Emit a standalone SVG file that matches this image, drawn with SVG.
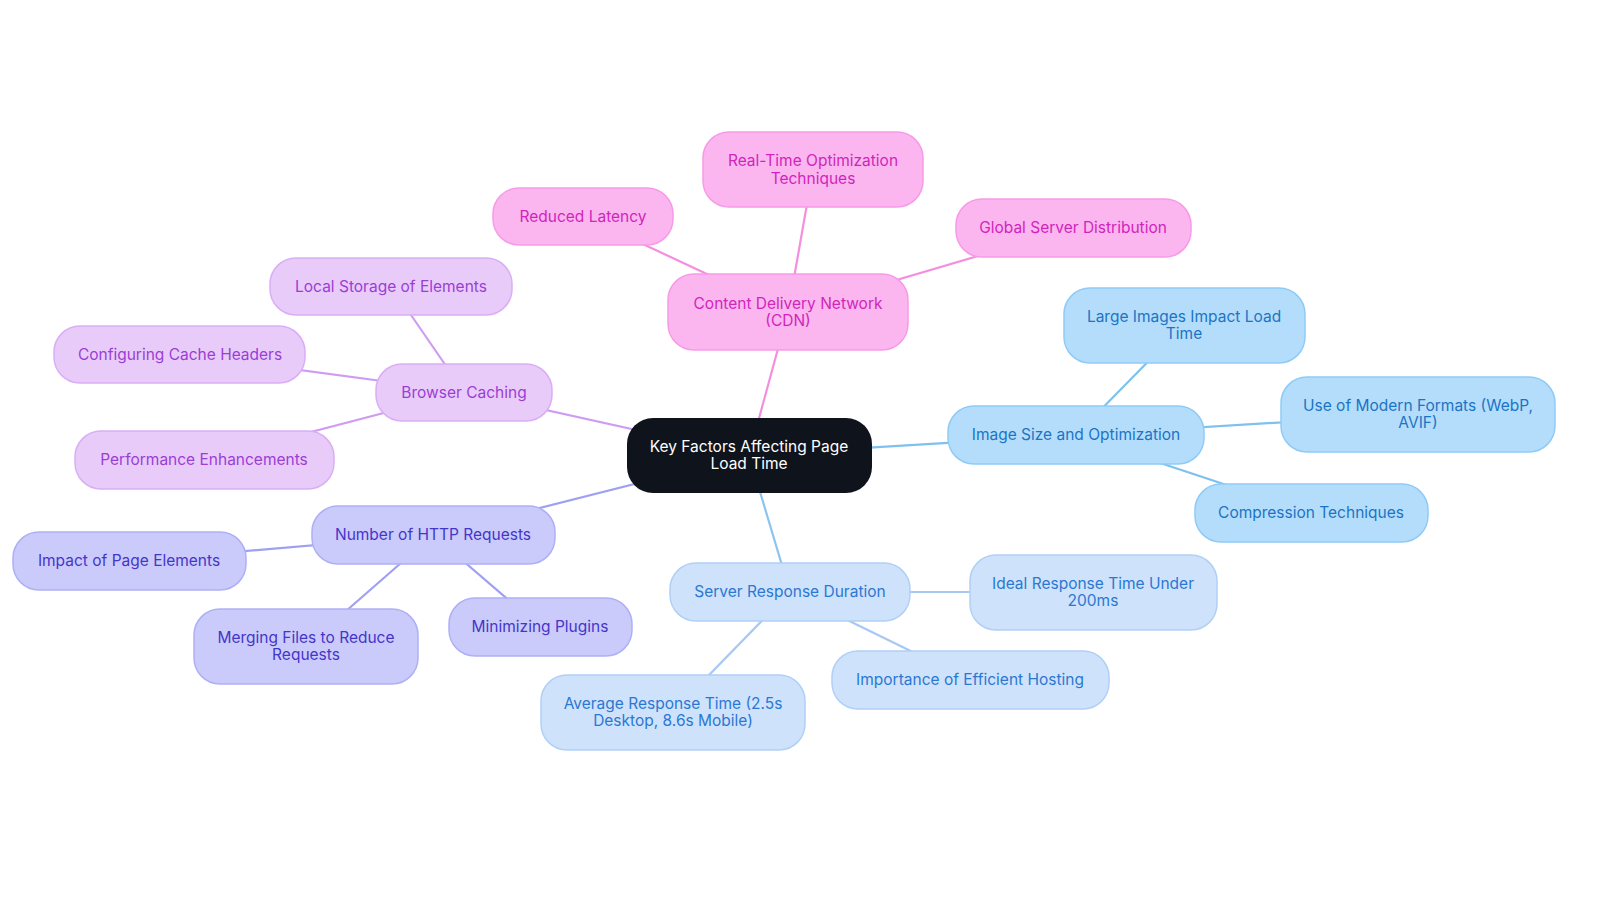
<svg xmlns="http://www.w3.org/2000/svg" width="1600" height="903" viewBox="0 0 1600 903">
<style>
text{font-family:Inter,"Noto Sans",sans-serif;font-size:15.5px;text-anchor:middle;dominant-baseline:central}
.e line{stroke-width:2.2}
.pk rect{fill:#FBB6EF;stroke:#F79BE8;stroke-width:1.5}.pk text{fill:#D025BC}
.pu rect{fill:#E9CBFA;stroke:#D9AEF5;stroke-width:1.5}.pu text{fill:#9A3ED4}
.in rect{fill:#CACBFB;stroke:#AEB0F6;stroke-width:1.5}.in text{fill:#4535C9}
.bl rect{fill:#B4DDFB;stroke:#8FCBF6;stroke-width:1.5}.bl text{fill:#1C74C4}
.sb rect{fill:#CFE2FB;stroke:#B0D0F6;stroke-width:1.5}.sb text{fill:#2A78D2}
</style>
<rect width="1600" height="903" fill="#fff"/>
<g class="e">
<line x1="749" y1="455" x2="788" y2="312" stroke="#F48FDF"/>
<line x1="788" y1="312" x2="813" y2="170" stroke="#F48FDF"/>
<line x1="788" y1="312" x2="583" y2="216" stroke="#F48FDF"/>
<line x1="788" y1="312" x2="1073" y2="228" stroke="#F48FDF"/>
<line x1="749" y1="455" x2="464" y2="392" stroke="#CF9CF2"/>
<line x1="464" y1="392" x2="391" y2="286" stroke="#CF9CF2"/>
<line x1="464" y1="392" x2="180" y2="354" stroke="#CF9CF2"/>
<line x1="464" y1="392" x2="204" y2="460" stroke="#CF9CF2"/>
<line x1="749" y1="455" x2="433" y2="535" stroke="#9FA0F2"/>
<line x1="433" y1="535" x2="129" y2="561" stroke="#9FA0F2"/>
<line x1="433" y1="535" x2="306" y2="646" stroke="#9FA0F2"/>
<line x1="433" y1="535" x2="540" y2="627" stroke="#9FA0F2"/>
<line x1="749" y1="455" x2="790" y2="592" stroke="#8CC4EE"/>
<line x1="790" y1="592" x2="1093" y2="592" stroke="#A6C8F2"/>
<line x1="790" y1="592" x2="970" y2="680" stroke="#A6C8F2"/>
<line x1="790" y1="592" x2="673" y2="712" stroke="#A6C8F2"/>
<line x1="749" y1="455" x2="1076" y2="435" stroke="#7EC0EE"/>
<line x1="1076" y1="435" x2="1184" y2="325" stroke="#7EC0EE"/>
<line x1="1076" y1="435" x2="1418" y2="414" stroke="#7EC0EE"/>
<line x1="1076" y1="435" x2="1311" y2="513" stroke="#7EC0EE"/>
</g>
<g id="center"><rect x="627" y="418" width="245" height="75" rx="26" fill="#0F141C"/><text x="749" y="446" fill="#fff">Key Factors Affecting Page</text><text x="749" y="463" fill="#fff">Load Time</text></g>
<g id="cdn" class="pk"><rect x="668" y="274" width="240" height="76" rx="26"/><text x="788" y="303">Content Delivery Network</text><text x="788" y="320">(CDN)</text></g>
<g id="rt" class="pk"><rect x="703" y="132" width="220" height="75" rx="26"/><text x="813" y="160">Real-Time Optimization</text><text x="813" y="178">Techniques</text></g>
<g id="rl" class="pk"><rect x="493" y="188" width="180" height="57" rx="26"/><text x="583" y="216">Reduced Latency</text></g>
<g id="gs" class="pk"><rect x="956" y="199" width="235" height="58" rx="26"/><text x="1073" y="227">Global Server Distribution</text></g>
<g id="bc" class="pu"><rect x="376" y="364" width="176" height="57" rx="26"/><text x="464" y="392">Browser Caching</text></g>
<g id="ls" class="pu"><rect x="270" y="258" width="242" height="57" rx="26"/><text x="391" y="286">Local Storage of Elements</text></g>
<g id="cc" class="pu"><rect x="54" y="326" width="251" height="57" rx="26"/><text x="180" y="354">Configuring Cache Headers</text></g>
<g id="pe" class="pu"><rect x="75" y="431" width="259" height="58" rx="26"/><text x="204" y="459">Performance Enhancements</text></g>
<g id="http" class="in"><rect x="312" y="506" width="243" height="58" rx="26"/><text x="433" y="534">Number of HTTP Requests</text></g>
<g id="ipe" class="in"><rect x="13" y="532" width="233" height="58" rx="26"/><text x="129" y="560">Impact of Page Elements</text></g>
<g id="mf" class="in"><rect x="194" y="609" width="224" height="75" rx="26"/><text x="306" y="637">Merging Files to Reduce</text><text x="306" y="654">Requests</text></g>
<g id="mp" class="in"><rect x="449" y="598" width="183" height="58" rx="26"/><text x="540" y="626">Minimizing Plugins</text></g>
<g id="srd" class="sb"><rect x="670" y="563" width="240" height="58" rx="26"/><text x="790" y="591">Server Response Duration</text></g>
<g id="ideal" class="sb"><rect x="970" y="555" width="247" height="75" rx="26"/><text x="1093" y="583">Ideal Response Time Under</text><text x="1093" y="600">200ms</text></g>
<g id="imp" class="sb"><rect x="832" y="651" width="277" height="58" rx="26"/><text x="970" y="679">Importance of Efficient Hosting</text></g>
<g id="avg" class="sb"><rect x="541" y="675" width="264" height="75" rx="26"/><text x="673" y="703">Average Response Time (2.5s</text><text x="673" y="720">Desktop, 8.6s Mobile)</text></g>
<g id="iso" class="bl"><rect x="948" y="406" width="256" height="58" rx="26"/><text x="1076" y="434">Image Size and Optimization</text></g>
<g id="li" class="bl"><rect x="1064" y="288" width="241" height="75" rx="26"/><text x="1184" y="316">Large Images Impact Load</text><text x="1184" y="333">Time</text></g>
<g id="mod" class="bl"><rect x="1281" y="377" width="274" height="75" rx="26"/><text x="1418" y="405">Use of Modern Formats (WebP,</text><text x="1418" y="422">AVIF)</text></g>
<g id="comp" class="bl"><rect x="1195" y="484" width="233" height="58" rx="26"/><text x="1311" y="512">Compression Techniques</text></g>
</svg>
